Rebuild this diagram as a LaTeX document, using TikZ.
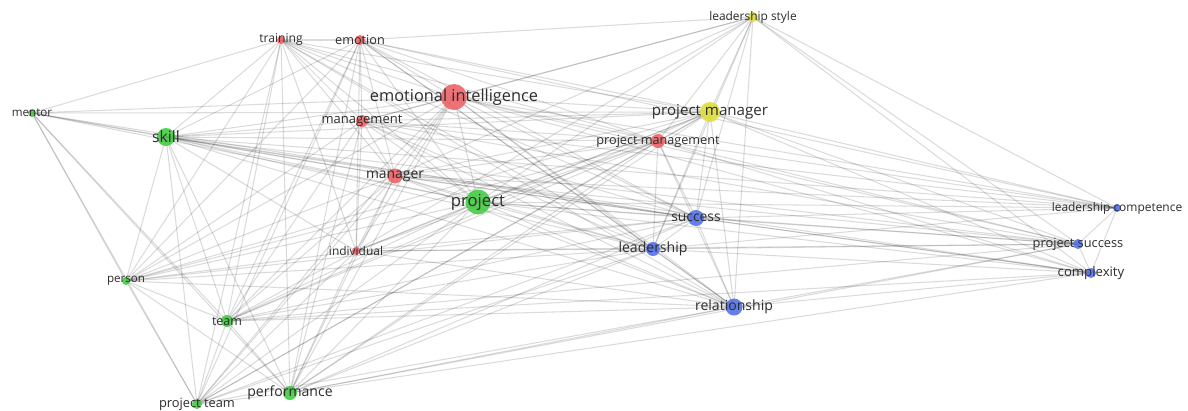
\documentclass[tikz,border=0pt]{standalone}
\usepackage{fontspec}
\setmainfont{Open Sans}
\definecolor{cred}{RGB}{236,104,108}
\definecolor{cgreen}{RGB}{72,204,72}
\definecolor{cblue}{RGB}{88,118,236}
\definecolor{cyellow}{RGB}{222,222,66}
\definecolor{ctext}{RGB}{45,45,45}
\begin{document}
\begin{tikzpicture}[x=0.02cm,y=-0.02cm,
  link/.style={draw=black, draw opacity=0.14, line width=0.6pt},
  dot/.style={circle, inner sep=0pt, draw=none, fill opacity=0.92},
  term/.style={text=ctext, inner sep=0pt}]
\fill[white] (0,0) rectangle (1188,410);
\useasboundingbox (0,0) rectangle (1188,410);

% term positions
\foreach \n/\x/\y in {
  tr/281/40, em/360/40, ei/454/97, mg/362/121, mr/395/176, pj/478/202,
  in/356/251, mt/32/113, sk/166/137, ps/126/281, tm/227/321, pt/197/404,
  pf/290/393, ls/753/17, pm/710/112, pg/658/141, su/696/218, ld/653/249,
  rl/734/307, lc/1117/208, pc/1078/244, cx/1091/273}
  \coordinate (\n) at (\x,\y);

% co-occurrence links
\foreach \a/\b in {
  tr/em, tr/ei, tr/mg, tr/mr, tr/pj, tr/in, tr/mt, tr/sk, tr/ps, tr/tm, tr/pt, tr/pf, tr/pm, tr/pg, tr/su, tr/ld, tr/rl,
  em/ei, em/mg, em/mr, em/pj, em/in, em/sk, em/ps, em/tm, em/pt, em/pf, em/ls, em/pm, em/pg, em/su, em/ld, em/rl, em/lc,
  ei/mg, ei/mr, ei/pj, ei/in, ei/mt, ei/sk, ei/ps, ei/tm, ei/pt, ei/pf, ei/ls, ei/pm, ei/pg, ei/su, ei/ld, ei/rl, ei/lc, ei/pc, ei/cx,
  mg/mr, mg/pj, mg/in, mg/sk, mg/ps, mg/tm, mg/pf, mg/ls, mg/pm, mg/pg, mg/su, mg/ld, mg/rl, mg/lc, mg/pc,
  mr/pj, mr/in, mr/mt, mr/sk, mr/ps, mr/tm, mr/pt, mr/pf, mr/ls, mr/pm, mr/pg, mr/su, mr/ld, mr/rl, mr/lc, mr/pc, mr/cx,
  pj/in, pj/mt, pj/sk, pj/ps, pj/tm, pj/pt, pj/pf, pj/ls, pj/pm, pj/pg, pj/su, pj/ld, pj/rl, pj/lc, pj/pc, pj/cx,
  in/sk, in/ps, in/tm, in/pt, in/pf, in/ls, in/pm, in/pg, in/su, in/ld, in/rl, in/pc,
  mt/sk, mt/ps, mt/tm, mt/pt, mt/pf, mt/pm, mt/su,
  sk/ps, sk/tm, sk/pt, sk/pf, sk/pm, sk/pg, sk/su, sk/ld, sk/rl, sk/pc, sk/cx, sk/lc,
  ps/tm, ps/pt, ps/pf, ps/pm, ps/pg, ps/su, ps/ld, ps/rl,
  tm/pt, tm/pf, tm/pm, tm/pg, tm/su, tm/ld, tm/rl, tm/pc, tm/cx,
  pt/pf, pt/pm, pt/pg, pt/su, pt/ld, pt/rl,
  pf/pm, pf/pg, pf/su, pf/ld, pf/rl, pf/pc, pf/cx,
  ls/pm, ls/pg, ls/su, ls/ld, ls/rl, ls/lc, ls/pc, ls/cx,
  pm/pg, pm/su, pm/ld, pm/rl, pm/lc, pm/pc, pm/cx,
  pg/su, pg/ld, pg/rl, pg/lc, pg/pc, pg/cx,
  su/ld, su/rl, su/lc, su/pc, su/cx,
  ld/rl, ld/lc, ld/pc, ld/cx,
  rl/pc, rl/cx, lc/pc, lc/cx, pc/cx}
  \draw[link] (\a) -- (\b);

% term circles and labels (radius in px, colour, font size in pt)
\foreach \n/\r/\c/\s/\t in {
  tr/4/cred/6.9/training, em/5/cred/7.2/emotion,
  ei/13/cred/9.3/emotional intelligence, mg/6/cred/7.4/management,
  mr/7.5/cred/7.9/manager, pj/12.5/cgreen/9.5/project,
  in/4/cred/6.8/individual, mt/4/cgreen/6.6/mentor,
  sk/9/cgreen/8.9/skill, ps/4/cgreen/6.6/person,
  tm/6/cgreen/7.1/team, pt/5/cgreen/7.3/project team,
  pf/7/cgreen/8.0/performance, ls/5/cyellow/6.8/leadership style,
  pm/10/cyellow/8.6/project manager, pg/7/cred/7.2/project management,
  su/8/cblue/7.9/success, ld/7/cblue/8.0/leadership,
  rl/8.5/cblue/8.0/relationship, lc/4/cblue/6.8/leadership competence,
  pc/5/cblue/7.3/project success, cx/5/cblue/7.5/complexity}
{
  \node[dot, fill=\c, minimum size={\r*0.4mm}] (\n-dot) at (\n) {};
  \node[term, font={\fontsize{\s}{\s}\selectfont}] (\n-label) at (\n) {\t};
}
\end{tikzpicture}
\end{document}
